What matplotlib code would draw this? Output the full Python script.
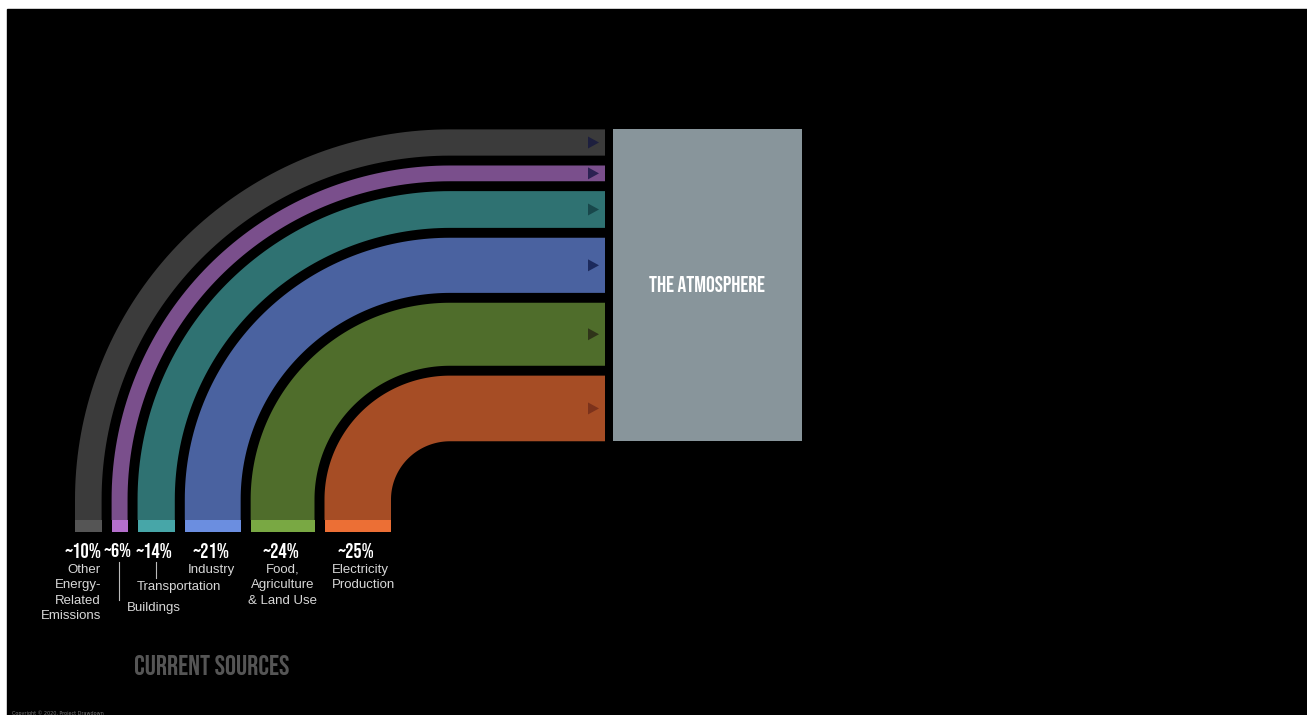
import matplotlib as mpl
mpl.use('Agg')
import matplotlib.pyplot as plt
from matplotlib import font_manager
from matplotlib.patches import Rectangle, Polygon
import numpy as np

# emission sources, outermost band first
percents = [10, 6, 14, 21, 24, 25]
pct_labels = ['~10%', '~6%', '~14%', '~21%', '~24%', '~25%']
band_colors = ['#3b3b3b', '#7a4f8c', '#2f7272', '#4a62a0', '#4f6d2b', '#a64d25']
cap_colors = ['#555555', '#b46fcc', '#47a6a8', '#6b8ee0', '#79a843', '#ec6f35']
arrow_colors = ['#1d1f3e', '#2b2152', '#18474b', '#1c2a5c', '#2f3419', '#7c321b']
sink_label = 'THE ATMOSPHERE'
title = 'CURRENT SOURCES'

W, H = 1307, 715

# pick a condensed face if one is installed
names = sorted({f.name for f in font_manager.fontManager.ttflist})
narrow_name = None
for want in ['Bebas Neue', 'Oswald', 'Roboto Condensed', 'Liberation Sans Narrow',
             'DejaVu Sans Condensed', 'Open Sans Condensed']:
    if want in names:
        narrow_name = want
        break
narrow = [narrow_name, 'DejaVu Sans'] if narrow_name else ['DejaVu Sans']

fig = plt.figure(figsize=(W / 100, H / 100), dpi=100, facecolor='white')
ax = fig.add_axes([0, 0, 1, 1])
ax.set_xlim(0, W)
ax.set_ylim(H, 0)
ax.axis('off')
renderer = fig.canvas.get_renderer()


def fit_text(x, y, s, width, size, **kw):
    # shrink the font until the text is no wider than the reference
    t = ax.text(x, y, s, fontsize=size, **kw)
    w = t.get_window_extent(renderer).width
    if w > width:
        t.set_fontsize(size * width / w)
    return t


ax.add_patch(Rectangle((7, 9), W - 7, H - 9, color='black', zorder=0))

cx, cy = 450, 499.5
ky = 0.987
r_inner = 59
px_per_pct = 2.66
gap = 10
x_end = 605
cap_top, cap_h = 520, 12

# radii from the inside out (last source is innermost)
radii = []
r = r_inner
for p in percents[::-1]:
    radii.append((r, r + p * px_per_pct))
    r += p * px_per_pct + gap
radii = radii[::-1]

theta = np.linspace(0, np.pi / 2, 80)
for i, (ri, ro) in enumerate(radii):
    outer = np.column_stack([cx - ro * np.cos(theta), cy - ky * ro * np.sin(theta)])
    inner = np.column_stack([cx - ri * np.cos(theta), cy - ky * ri * np.sin(theta)])[::-1]
    pts = np.vstack([[[cx - ro, cap_top]], outer, [[x_end, cy - ky * ro]],
                     [[x_end, cy - ky * ri]], inner, [[cx - ri, cap_top]]])
    ax.add_patch(Polygon(pts, closed=True, color=band_colors[i], lw=0, zorder=2))
    ax.add_patch(Rectangle((cx - ro, cap_top), ro - ri, cap_h, color=cap_colors[i], lw=0, zorder=2))
    ym = cy - ky * (ri + ro) / 2
    ax.add_patch(Polygon([[588, ym - 6], [599, ym], [588, ym + 6]], closed=True,
                         color=arrow_colors[i], lw=0, zorder=3))

pct_x = [83.5, 118, 154.5, 211.5, 281.5, 356.5]
pct_w = [37, 28, 37, 37, 37, 37]
for i in range(len(pct_labels)):
    fit_text(pct_x[i], 550, pct_labels[i], pct_w[i], 18, color='white',
             fontweight='bold', family=narrow, ha='center', va='center')

# the atmosphere box
top_y = cy - ky * radii[0][1]
bot_y = cy - ky * radii[-1][0]
ax.add_patch(Rectangle((613, top_y), 189, bot_y - top_y, color='#88959b', lw=0, zorder=2))
fit_text(707, 284, sink_label, 116, 16, color='white', fontweight='bold',
         family=narrow, ha='center', va='center')

lab = dict(color='#d8d8d8', fontsize=9.5, family=['Liberation Sans', 'DejaVu Sans'],
           va='top', linespacing=1.37)
ax.text(101, 564, 'Other\nEnergy-\nRelated\nEmissions', ha='right', **lab)
ax.text(127, 602, 'Buildings', ha='left', **lab)
ax.text(137, 581, 'Transportation', ha='left', **lab)
ax.text(211, 564, 'Industry', ha='center', **lab)
ax.text(283, 564, 'Food,\nAgriculture\n& Land Use', ha='center', **lab)
ax.text(332, 564, 'Electricity\nProduction', ha='left', **lab)
ax.plot([119, 119], [562, 600], color='#bbbbbb', lw=0.8)
ax.plot([156, 156], [562, 578], color='#bbbbbb', lw=0.8)

fit_text(212, 665, title, 155, 22, color='#555555', fontweight='bold',
         family=narrow, ha='center', va='center')
ax.text(12, 713, 'Copyright © 2020, Project Drawdown', color='#777777', fontsize=3.5,
        ha='left', va='center')

plt.savefig('out.png', dpi=100, facecolor='white')
